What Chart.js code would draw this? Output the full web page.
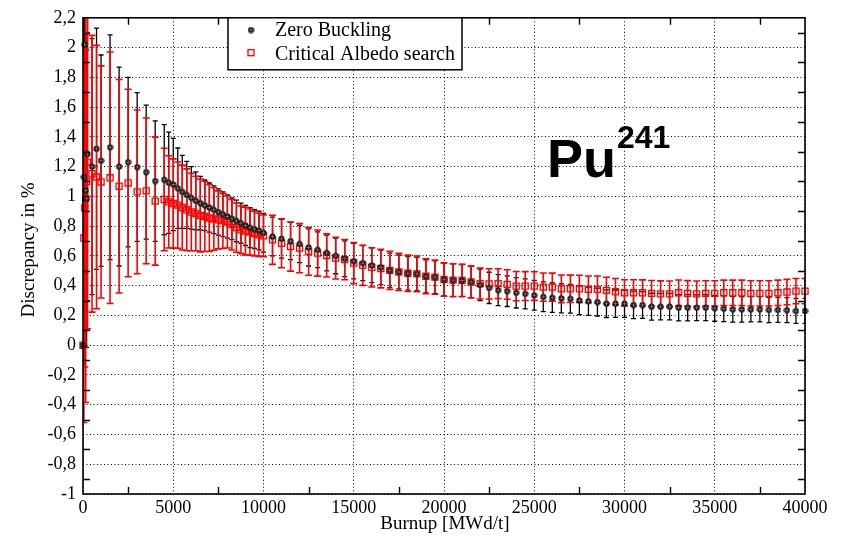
<!DOCTYPE html>
<html><head><meta charset="utf-8">
<script src="https://cdn.jsdelivr.net/npm/chart.js@4/dist/chart.umd.min.js"></script>
<style>html,body{margin:0;padding:0;background:#fff}#wrap{position:relative;width:850px;height:537px}</style>
</head><body><div id="wrap"><canvas id="c" width="850" height="537"></canvas></div>
<script>
// ---- data ----
const burnup = [0,50,100,150,200,250,500,750,1000,1500,2000,2500,3000,3500,4000,4500,4750,
  5000,5250,5500,5750,6000,6250,6500,6750,7000,7250,7500,7750,8000,8250,8500,8750,9000,9250,9500,9750,10000,
  10500,11000,11500,12000,12500,13000,13500,14000,14500,15000,
  15500,16000,16500,17000,17500,18000,18500,19000,19500,20000,
  20500,21000,21500,22000,22500,23000,23500,24000,24500,25000,
  25500,26000,26500,27000,27500,28000,28500,29000,29500,30000,
  30500,31000,31500,32000,32500,33000,33500,34000,34500,35000,
  35500,36000,36500,37000,37500,38000,38500,39000,39500,40000];
const zeroBuckling = [0,1.13,2.02,1.04,0.985,1.285,1.2,1.32,1.24,1.33,1.2,1.23,1.197,1.163,1.103,1.112,1.092,
  1.08,1.055,1.03,1.01,0.99,0.97,0.955,0.94,0.925,0.91,0.895,0.88,0.865,0.85,0.835,0.82,0.805,0.79,0.78,0.77,0.755,
  0.73,0.715,0.70,0.68,0.657,0.641,0.62,0.60,0.581,0.565,
  0.552,0.537,0.523,0.503,0.492,0.483,0.479,0.463,0.457,0.441,
  0.437,0.435,0.425,0.405,0.385,0.37,0.363,0.352,0.345,0.335,
  0.325,0.319,0.315,0.312,0.301,0.295,0.29,0.279,0.279,0.279,
  0.27,0.27,0.259,0.259,0.259,0.252,0.252,0.252,0.252,0.248,
  0.245,0.241,0.241,0.241,0.241,0.237,0.237,0.235,0.23,0.23];
const zeroBucklingErr = [0,1.23,0.95,0.94,1.0,0.985,0.86,0.81,0.71,0.755,0.668,0.57,0.50,0.45,0.405,0.37,0.34,
  0.31,0.27,0.245,0.225,0.21,0.195,0.18,0.17,0.165,0.16,0.155,0.15,0.145,0.14,0.14,0.135,0.135,0.135,0.13,0.13,0.13,
  0.13,0.13,0.125,0.125,0.125,0.12,0.12,0.12,0.12,0.12,
  0.118,0.117,0.116,0.115,0.114,0.113,0.112,0.111,0.11,0.11,
  0.11,0.108,0.107,0.106,0.105,0.104,0.103,0.102,0.101,0.1,
  0.1,0.099,0.098,0.097,0.096,0.095,0.094,0.093,0.092,0.092,
  0.091,0.09,0.09,0.089,0.089,0.088,0.088,0.087,0.087,0.087,
  0.086,0.086,0.086,0.085,0.085,0.085,0.084,0.084,0.084,0.084];
const albedo = [0,0.72,0.923,0.985,1.10,1.23,1.152,1.13,1.097,1.125,1.068,1.09,1.03,1.037,0.968,0.979,0.963,
  0.952,0.941,0.925,0.91,0.895,0.885,0.872,0.865,0.855,0.848,0.842,0.835,0.828,0.81,0.79,0.775,0.767,0.76,0.75,0.742,0.735,
  0.708,0.685,0.663,0.652,0.63,0.619,0.603,0.585,0.575,0.552,
  0.537,0.523,0.515,0.503,0.492,0.483,0.479,0.463,0.457,0.441,
  0.437,0.435,0.425,0.414,0.412,0.414,0.408,0.397,0.397,0.397,
  0.39,0.39,0.379,0.379,0.379,0.375,0.375,0.368,0.359,0.352,
  0.352,0.352,0.348,0.345,0.345,0.352,0.348,0.345,0.348,0.348,
  0.352,0.352,0.352,0.348,0.348,0.348,0.352,0.357,0.363,0.363];
const albedoErr = [0,1.24,1.07,1.37,1.0,1.12,0.93,0.885,0.78,0.845,0.717,0.63,0.55,0.49,0.43,0.344,0.31,
  0.30,0.29,0.285,0.275,0.26,0.25,0.245,0.235,0.225,0.21,0.195,0.185,0.175,0.17,0.165,0.16,0.16,0.155,0.15,0.145,0.14,
  0.165,0.165,0.165,0.165,0.16,0.155,0.145,0.14,0.135,0.138,
  0.135,0.132,0.13,0.128,0.125,0.122,0.12,0.117,0.115,0.112,
  0.11,0.108,0.106,0.104,0.102,0.1,0.099,0.098,0.097,0.096,
  0.095,0.094,0.093,0.092,0.091,0.09,0.09,0.089,0.089,0.088,
  0.088,0.087,0.087,0.087,0.086,0.086,0.086,0.086,0.085,0.085,
  0.085,0.085,0.085,0.085,0.085,0.085,0.085,0.085,0.085,0.085];
const xTickLabels = ['0','5000','10000','15000','20000','25000','30000','35000','40000'];
const yTickLabels = ['-1','-0,8','-0,6','-0,4','-0,2','0','0,2','0,4','0,6','0,8','1','1,2','1,4','1,6','1,8','2','2,2'];
const seriesNames = ['Zero Buckling','Critical Albedo search'];
const xTitle = 'Burnup [MWd/t]';
const yTitle = 'Discrepancy in %';
const nuclide = 'Pu';
const nuclideMass = '241';

const SERIF = '"Liberation Serif", "Times New Roman", serif';
const SANS = '"Liberation Sans", Arial, sans-serif';

// "circle with cross" marker used for the Zero Buckling points
function makeCrossCircle() {
  const c = document.createElement('canvas');
  c.width = 7; c.height = 7;
  const g = c.getContext('2d');
  g.beginPath(); g.arc(3.5, 3.5, 3.1, 0, Math.PI * 2);
  g.fillStyle = '#111'; g.fill();
  g.strokeStyle = '#7a7a7a'; g.lineWidth = 0.9;
  g.beginPath(); g.moveTo(1.5, 3.5); g.lineTo(5.5, 3.5); g.moveTo(3.5, 1.5); g.lineTo(3.5, 5.5); g.stroke();
  return c;
}
const crossCircle = makeCrossCircle();

const errorBars = {
  id: 'errorBars',
  beforeDatasetsDraw(chart) {
    const ctx = chart.ctx, a = chart.chartArea;
    const xs = chart.scales.x, ys = chart.scales.y;
    ctx.save();
    ctx.beginPath(); ctx.rect(a.left, a.top, a.right - a.left, a.bottom - a.top); ctx.clip();
    chart.data.datasets.forEach(ds => {
      ctx.strokeStyle = ds.errColor; ctx.lineWidth = ds.errWidth;
      ds.values.forEach((v, i) => {
        const e = ds.errors[i]; if (!e) return;
        const x = xs.getPixelForValue(ds.xs[i]);
        const yLo = ys.getPixelForValue(v - e), yHi = ys.getPixelForValue(v + e);
        ctx.beginPath();
        ctx.moveTo(x, yLo); ctx.lineTo(x, yHi);
        ctx.moveTo(x - ds.capHalf, yLo); ctx.lineTo(x + ds.capHalf, yLo);
        ctx.moveTo(x - ds.capHalf, yHi); ctx.lineTo(x + ds.capHalf, yHi);
        ctx.stroke();
      });
    });
    ctx.restore();
  }
};

const decor = {
  id: 'decor',
  afterDatasetsDraw(chart) {
    const ctx = chart.ctx, a = chart.chartArea;
    const xs = chart.scales.x, ys = chart.scales.y;
    ctx.save();
    // minor inward ticks
    ctx.strokeStyle = '#000'; ctx.lineWidth = 1.4;
    ctx.beginPath();
    for (let v = 2500; v < 40000; v += 5000) {
      const x = Math.round(xs.getPixelForValue(v)) + 0.5;
      ctx.moveTo(x, a.bottom); ctx.lineTo(x, a.bottom - 7);
      ctx.moveTo(x, a.top); ctx.lineTo(x, a.top + 7);
    }
    for (let k = 0; k < 16; k++) {
      const y = Math.round(ys.getPixelForValue(-0.9 + 0.2 * k)) + 0.5;
      ctx.moveTo(a.left, y); ctx.lineTo(a.left + 7, y);
      ctx.moveTo(a.right, y); ctx.lineTo(a.right - 7, y);
    }
    ctx.stroke();
    // frame
    ctx.lineWidth = 1.6;
    ctx.strokeRect(a.left, a.top, a.right - a.left, a.bottom - a.top);
    // legend
    const lx = 228, ly = a.top, lw = 234, lh = 52;
    ctx.fillStyle = '#fff'; ctx.fillRect(lx, ly, lw, lh);
    ctx.lineWidth = 1.5; ctx.strokeStyle = '#000'; ctx.strokeRect(lx, ly, lw, lh);
    ctx.font = '20px ' + SERIF; ctx.fillStyle = '#000'; ctx.textBaseline = 'alphabetic'; ctx.textAlign = 'left';
    const ds0 = chart.data.datasets[0], ds1 = chart.data.datasets[1];
    ctx.drawImage(crossCircle, 251 - 3.5, 30 - 3.5);
    ctx.fillText(ds0.label, 275, 36);
    ctx.strokeStyle = '#ff0000'; ctx.lineWidth = 1.3;
    ctx.strokeRect(248, 49.7, 6, 6);
    ctx.fillText(ds1.label, 275, 59.5);
    // nuclide label
    ctx.font = 'bold 54px ' + SANS; ctx.fillStyle = '#000';
    ctx.fillText(nuclide, 547, 177);
    const w = ctx.measureText(nuclide).width;
    ctx.font = 'bold 32px ' + SANS;
    ctx.fillText(nuclideMass, 547 + w + 1, 148);
    // axis titles
    ctx.font = '19px ' + SERIF; ctx.textAlign = 'center'; ctx.textBaseline = 'middle';
    ctx.fillText(xTitle, (a.left + a.right) / 2 + 1, 524);
    ctx.save();
    ctx.translate(29, (a.top + a.bottom) / 2 - 6);
    ctx.rotate(-Math.PI / 2);
    ctx.fillText(yTitle, 0, 0);
    ctx.restore();
    ctx.restore();
  }
};

new Chart(document.getElementById('c'), {
  type: 'scatter',
  data: {
    datasets: [
      { label: seriesNames[0], data: burnup.map((x, i) => ({x, y: zeroBuckling[i]})),
        xs: burnup, values: zeroBuckling, errors: zeroBucklingErr, errColor: '#000', errWidth: 1.3, capHalf: 2.5,
        pointStyle: crossCircle, pointRadius: 3.5, pointHoverRadius: 3.5, backgroundColor: '#111', borderColor: '#000', borderWidth: 0,
        showLine: false, clip: false },
      { label: seriesNames[1], data: burnup.map((x, i) => ({x, y: albedo[i]})),
        xs: burnup, values: albedo, errors: albedoErr, errColor: '#ff0000', errWidth: 1.6, capHalf: 3.5,
        pointStyle: 'rect', pointRadius: 4.3, pointHoverRadius: 4.3, backgroundColor: 'rgba(0,0,0,0)', borderColor: '#ff0000', borderWidth: 1.3,
        showLine: false, clip: false }
    ]
  },
  options: {
    responsive: false, animation: false, devicePixelRatio: 1,
    layout: { padding: { left: 0, top: 14, right: 45, bottom: 0 } },
    plugins: { legend: { display: false }, tooltip: { enabled: false } },
    scales: {
      x: { type: 'linear', min: 0, max: 40000,
        afterFit: s => { s.height = 43; },
        ticks: { stepSize: 5000, autoSkip: false, maxRotation: 0, padding: 3, color: '#000',
          font: { family: SERIF, size: 18 }, callback: (v, i) => xTickLabels[i] ?? '' },
        grid: { color: '#000', lineWidth: 1, drawTicks: false },
        border: { display: false, dash: [1, 2.5] } },
      y: { type: 'linear', min: -1, max: 2.2,
        afterFit: s => { s.width = 83; },
        ticks: { stepSize: 0.2, autoSkip: false, padding: 7, color: '#000',
          font: { family: SERIF, size: 18 }, callback: (v, i) => yTickLabels[i] ?? '' },
        grid: { color: '#000', lineWidth: 1, drawTicks: false },
        border: { display: false, dash: [1, 2.5] } }
    }
  },
  plugins: [errorBars, decor]
});
</script></body></html>
